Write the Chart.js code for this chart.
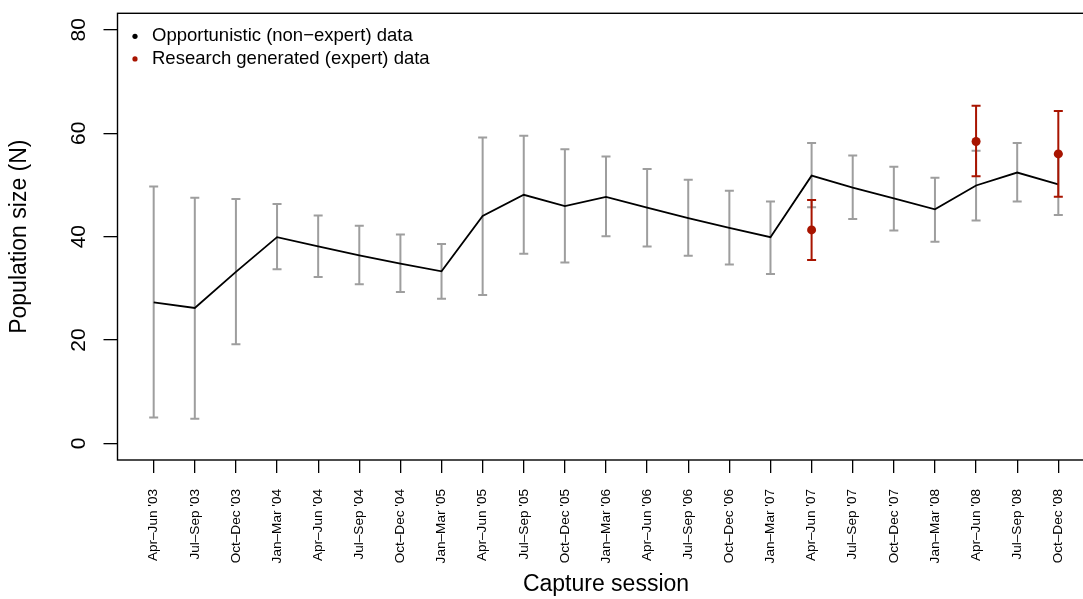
<!DOCTYPE html>
<html>
<head>
<meta charset="utf-8">
<script src="https://cdn.jsdelivr.net/npm/chart.js@4/dist/chart.umd.min.js"></script>
<style>
  html, body { margin: 0; padding: 0; background: #ffffff; overflow: hidden; }
  #wrap { width: 1083px; height: 599px; overflow: hidden; }
  canvas { display: block; }
</style>
</head>
<body>
<div id="wrap"><canvas id="c" width="1100" height="599"></canvas></div>
<script>
const sessions = [
  "Apr\u2013Jun '03", "Jul\u2013Sep '03", "Oct\u2013Dec '03",
  "Jan\u2013Mar '04", "Apr\u2013Jun '04", "Jul\u2013Sep '04", "Oct\u2013Dec '04",
  "Jan\u2013Mar '05", "Apr\u2013Jun '05", "Jul\u2013Sep '05", "Oct\u2013Dec '05",
  "Jan\u2013Mar '06", "Apr\u2013Jun '06", "Jul\u2013Sep '06", "Oct\u2013Dec '06",
  "Jan\u2013Mar '07", "Apr\u2013Jun '07", "Jul\u2013Sep '07", "Oct\u2013Dec '07",
  "Jan\u2013Mar '08", "Apr\u2013Jun '08", "Jul\u2013Sep '08", "Oct\u2013Dec '08"
];

const opportunisticN     = [27.3, 26.2, 33.2, 39.9, 38.1, 36.4, 34.8, 33.3, 44.0, 48.1, 45.9, 47.7, 45.6, 43.6, 41.7, 39.9, 51.8, 49.5, 47.4, 45.3, 49.9, 52.4, 50.1];
const opportunisticLower = [5.0, 4.8, 19.2, 33.7, 32.2, 30.8, 29.3, 28.0, 28.7, 36.7, 35.0, 40.1, 38.1, 36.3, 34.6, 32.8, 45.7, 43.4, 41.2, 39.0, 43.1, 46.8, 44.2];
const opportunisticUpper = [49.7, 47.5, 47.3, 46.3, 44.1, 42.1, 40.4, 38.6, 59.2, 59.5, 56.9, 55.5, 53.1, 51.0, 48.9, 46.8, 58.1, 55.7, 53.5, 51.4, 56.6, 58.1, 56.0];

const expertSessionIndex = [16, 20, 22];
const expertN     = [41.3, 58.4, 56.0];
const expertLower = [35.5, 51.7, 47.7];
const expertUpper = [47.1, 65.3, 64.3];

const yTickValues = [0, 20, 40, 60, 80];

const legendLabels = ["Opportunistic (non\u2212expert) data", "Research generated (expert) data"];
const FONT = "'Liberation Sans', Arial, Helvetica, sans-serif";
const BLACK = "#000000";
const GREY = "#9e9e9e";
const RED = "#a81400";

Chart.defaults.font.family = FONT;
Chart.defaults.color = BLACK;

function drawBars(chart, xs, lows, highs, color) {
  const ctx = chart.ctx;
  const xs_ = chart.scales.x, ys_ = chart.scales.y;
  ctx.save();
  ctx.strokeStyle = color;
  ctx.lineWidth = 2;
  const cap = 4.5;
  for (let k = 0; k < xs.length; k++) {
    const px = xs_.getPixelForValue(xs[k]);
    const p1 = ys_.getPixelForValue(lows[k]);
    const p2 = ys_.getPixelForValue(highs[k]);
    ctx.beginPath();
    ctx.moveTo(px, p1); ctx.lineTo(px, p2);
    ctx.moveTo(px - cap, p1); ctx.lineTo(px + cap, p1);
    ctx.moveTo(px - cap, p2); ctx.lineTo(px + cap, p2);
    ctx.stroke();
  }
  ctx.restore();
}

const errorBarPlugin = {
  id: 'errorBars',
  beforeDatasetsDraw(chart) {
    drawBars(chart, sessions.map((_, i) => i), opportunisticLower, opportunisticUpper, GREY);
  },
  afterDatasetDraw(chart, args) {
    if (args.index === 0) {
      drawBars(chart, expertSessionIndex, expertLower, expertUpper, RED);
    }
  }
};

const framePlugin = {
  id: 'frame',
  afterDraw(chart) {
    const ctx = chart.ctx;
    const a = chart.chartArea;
    ctx.save();
    ctx.strokeStyle = BLACK;
    ctx.lineWidth = 1.4;
    ctx.strokeRect(a.left, a.top, a.right - a.left, a.bottom - a.top);

    // rotated y tick labels (R style)
    const ys_ = chart.scales.y;
    ctx.fillStyle = BLACK;
    ctx.font = "21px " + FONT;
    ctx.textAlign = 'center';
    ctx.textBaseline = 'alphabetic';
    yTickValues.forEach(v => {
      const py = ys_.getPixelForValue(v);
      ctx.save();
      ctx.translate(85, py);
      ctx.rotate(-Math.PI / 2);
      ctx.fillText(String(v), 0, 0);
      ctx.restore();
    });

    // legend
    const colors = [BLACK, RED];
    ctx.font = "18.5px " + FONT;
    ctx.textAlign = 'left';
    ctx.textBaseline = 'middle';
    legendLabels.forEach((t, i) => {
      const cy = a.top + 23 + i * 22.6;
      ctx.beginPath();
      ctx.fillStyle = colors[i];
      ctx.arc(a.left + 17.5, cy, 2.6, 0, Math.PI * 2);
      ctx.fill();
      ctx.fillStyle = BLACK;
      ctx.fillText(t, a.left + 34.5, cy);
    });
    ctx.restore();
  }
};

new Chart(document.getElementById('c'), {
  type: 'line',
  data: {
    datasets: [
      {
        label: legendLabels[0],
        data: sessions.map((s, i) => ({ x: i, y: opportunisticN[i] })),
        borderColor: BLACK,
        backgroundColor: BLACK,
        borderWidth: 1.8,
        pointRadius: 0,
        tension: 0,
        order: 1
      },
      {
        label: legendLabels[1],
        data: expertSessionIndex.map((idx, k) => ({ x: idx, y: expertN[k] })),
        showLine: false,
        borderColor: RED,
        backgroundColor: RED,
        pointRadius: 4.5,
        pointBorderWidth: 0,
        order: 0
      }
    ]
  },
  options: {
    responsive: false,
    animation: false,
    devicePixelRatio: 1,
    layout: { padding: { top: 13.3, right: 5.5, left: 0, bottom: 0 } },
    plugins: {
      legend: { display: false },
      tooltip: { enabled: false }
    },
    scales: {
      x: {
        type: 'linear',
        min: -0.88,
        max: 22.88,
        afterBuildTicks: (axis) => { axis.ticks = sessions.map((_, i) => ({ value: i })); },
        afterFit: (axis) => { axis.height = 139; },
        ticks: {
          autoSkip: false,
          minRotation: 90,
          maxRotation: 90,
          padding: 16,
          color: BLACK,
          font: { size: 13.6 },
          callback: (v) => sessions[v]
        },
        grid: {
          drawOnChartArea: false,
          drawTicks: true,
          tickLength: 13,
          color: BLACK,
          lineWidth: 1.3
        },
        border: { display: false },
        title: {
          display: true,
          text: 'Capture session',
          color: BLACK,
          font: { size: 23 },
          padding: { top: 0, bottom: 0.2 }
        }
      },
      y: {
        type: 'linear',
        min: -3.2,
        max: 83.2,
        afterBuildTicks: (axis) => { axis.ticks = yTickValues.map(v => ({ value: v })); },
        afterFit: (axis) => { axis.width = 117.5; },
        ticks: { display: false },
        grid: {
          drawOnChartArea: false,
          drawTicks: true,
          tickLength: 14,
          color: BLACK,
          lineWidth: 1.3
        },
        border: { display: false },
        title: {
          display: true,
          text: 'Population size (N)',
          color: BLACK,
          font: { size: 23 },
          padding: { top: 6, bottom: 0 }
        }
      }
    }
  },
  plugins: [errorBarPlugin, framePlugin]
});
</script>
</body>
</html>
